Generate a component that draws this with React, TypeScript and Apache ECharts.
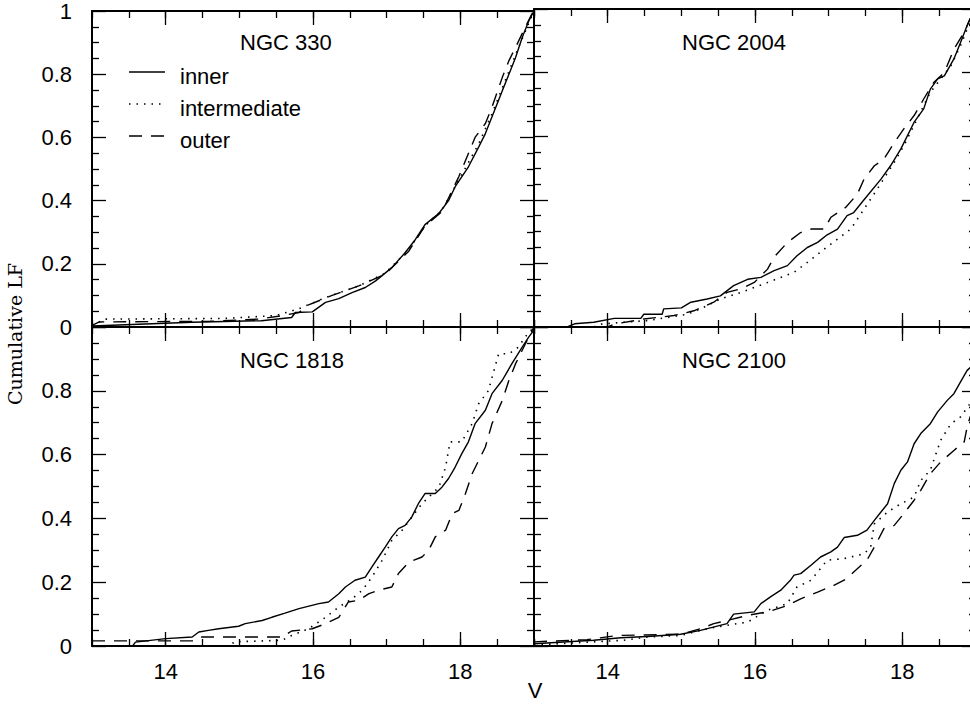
import React, { useEffect, useRef } from 'react';
import * as echarts from 'echarts';

// ---- data: [V magnitude, cumulative fraction] ----
const ngc330Inner = [[13.0,0.003],[14.36,0.015],[15.3,0.02],[15.71,0.03],[15.76,0.046],[15.99,0.048],[16.17,0.078],[16.35,0.09],[16.53,0.109],[16.71,0.125],[16.85,0.146],[17.07,0.188],[17.25,0.235],[17.39,0.277],[17.52,0.324],[17.71,0.36],[17.84,0.40],[17.93,0.444],[18.11,0.507],[18.25,0.57],[18.34,0.612],[18.43,0.665],[18.57,0.748],[18.66,0.80],[18.75,0.853],[18.84,0.916],[18.93,0.969],[19.0,1.0]];
const ngc330Inter = [[13.0,0.005],[13.18,0.025],[14.8,0.027],[15.49,0.036],[15.8,0.057],[16.17,0.093],[16.62,0.13],[16.98,0.17],[17.3,0.245],[17.52,0.32],[17.75,0.37],[17.98,0.465],[18.25,0.58],[18.43,0.675],[18.61,0.78],[18.79,0.885],[18.97,0.984],[19.0,1.0]];
const ngc330Outer = [[13.0,0.005],[13.1,0.016],[14.6,0.018],[15.26,0.025],[15.58,0.036],[15.81,0.046],[15.94,0.07],[16.26,0.10],[16.62,0.13],[16.98,0.167],[17.3,0.24],[17.52,0.32],[17.75,0.365],[17.98,0.476],[18.2,0.60],[18.34,0.644],[18.43,0.696],[18.57,0.79],[18.66,0.843],[18.75,0.885],[18.88,0.948],[18.97,0.99],[19.0,1.0]];

const ngc2004Inner = [[13.0,0],[13.45,0],[13.55,0.01],[13.81,0.015],[14.09,0.027],[14.45,0.027],[14.49,0.04],[14.74,0.04],[14.76,0.057],[15.0,0.06],[15.13,0.078],[15.35,0.088],[15.53,0.098],[15.71,0.13],[15.9,0.15],[16.08,0.156],[16.26,0.177],[16.44,0.193],[16.57,0.224],[16.71,0.25],[16.85,0.266],[16.98,0.29],[17.12,0.308],[17.25,0.35],[17.34,0.36],[17.48,0.40],[17.71,0.465],[17.84,0.507],[17.98,0.56],[18.16,0.644],[18.29,0.686],[18.38,0.748],[18.48,0.78],[18.57,0.79],[18.7,0.843],[18.79,0.895],[18.88,0.948],[18.92,0.969],[19.0,1.0]];
const ngc2004Inter = [[13.0,0],[13.81,0],[13.9,0.009],[14.22,0.015],[14.54,0.02],[14.81,0.03],[15.08,0.04],[15.26,0.057],[15.53,0.088],[15.81,0.109],[16.17,0.14],[16.53,0.172],[16.71,0.203],[16.94,0.245],[17.3,0.308],[17.48,0.371],[17.66,0.434],[17.89,0.518],[18.02,0.57],[18.2,0.654],[18.38,0.738],[18.52,0.78],[18.66,0.822],[18.79,0.885],[18.88,0.937],[19.0,0.99]];
const ngc2004Outer = [[13.0,0],[14.0,0],[14.09,0.009],[14.49,0.025],[14.9,0.036],[15.17,0.051],[15.44,0.078],[15.62,0.109],[15.81,0.12],[15.99,0.14],[16.17,0.182],[16.26,0.22],[16.44,0.266],[16.62,0.297],[16.76,0.308],[16.94,0.308],[17.03,0.345],[17.23,0.376],[17.39,0.418],[17.48,0.465],[17.62,0.507],[17.75,0.528],[17.89,0.58],[18.02,0.623],[18.16,0.665],[18.29,0.717],[18.43,0.77],[18.57,0.80],[18.7,0.874],[18.84,0.927],[18.92,0.969],[19.0,1.0]];

const ngc1818Inner = [[13.0,0],[13.55,0],[13.59,0.012],[14.0,0.023],[14.36,0.028],[14.45,0.044],[14.58,0.049],[14.72,0.054],[14.99,0.062],[15.08,0.07],[15.31,0.08],[15.44,0.09],[15.62,0.103],[15.81,0.117],[16.08,0.133],[16.21,0.138],[16.35,0.164],[16.44,0.185],[16.57,0.206],[16.71,0.216],[16.8,0.248],[16.89,0.279],[16.98,0.31],[17.07,0.342],[17.16,0.368],[17.25,0.378],[17.34,0.404],[17.43,0.446],[17.52,0.478],[17.66,0.478],[17.75,0.498],[17.84,0.525],[17.93,0.561],[18.02,0.603],[18.11,0.64],[18.2,0.697],[18.34,0.739],[18.43,0.791],[18.57,0.833],[18.7,0.885],[18.84,0.937],[18.93,0.969],[19.0,0.99]];
const ngc1818Inter = [[13.0,0],[14.9,0],[14.92,0.013],[15.58,0.018],[15.71,0.033],[15.94,0.054],[16.17,0.09],[16.35,0.122],[16.53,0.148],[16.67,0.175],[16.8,0.216],[16.94,0.269],[17.07,0.331],[17.21,0.363],[17.34,0.404],[17.48,0.446],[17.62,0.478],[17.71,0.498],[17.8,0.561],[17.86,0.64],[18.02,0.64],[18.16,0.697],[18.25,0.76],[18.38,0.80],[18.52,0.916],[18.66,0.916],[18.79,0.937],[18.88,0.969],[19.0,1.0]];
const ngc1818Outer = [[13.0,0.016],[14.4,0.016],[14.49,0.028],[15.58,0.028],[15.71,0.047],[15.99,0.054],[16.17,0.07],[16.35,0.09],[16.48,0.138],[16.62,0.143],[16.76,0.164],[16.89,0.175],[17.07,0.185],[17.16,0.227],[17.3,0.263],[17.48,0.279],[17.57,0.30],[17.66,0.342],[17.8,0.363],[17.89,0.415],[17.98,0.425],[18.07,0.478],[18.16,0.54],[18.25,0.582],[18.34,0.624],[18.43,0.697],[18.57,0.77],[18.66,0.833],[18.75,0.885],[18.84,0.927],[18.93,0.969],[19.0,1.0]];

const ngc2100Inner = [[13.0,0.007],[13.81,0.018],[14.18,0.026],[14.54,0.03],[14.99,0.037],[15.26,0.049],[15.62,0.07],[15.71,0.10],[15.99,0.107],[16.08,0.133],[16.21,0.154],[16.35,0.175],[16.48,0.206],[16.53,0.222],[16.62,0.227],[16.76,0.253],[16.89,0.279],[17.03,0.295],[17.12,0.31],[17.21,0.34],[17.39,0.347],[17.52,0.363],[17.62,0.394],[17.71,0.42],[17.8,0.446],[17.89,0.509],[17.98,0.551],[18.07,0.577],[18.16,0.634],[18.25,0.666],[18.38,0.697],[18.48,0.734],[18.61,0.77],[18.7,0.791],[18.79,0.828],[18.88,0.864],[19.0,0.89]];
const ngc2100Inter = [[13.0,0.003],[14.22,0.018],[14.54,0.028],[14.99,0.033],[15.35,0.054],[15.62,0.065],[15.9,0.075],[16.17,0.112],[16.44,0.133],[16.57,0.185],[16.76,0.206],[16.98,0.269],[17.21,0.274],[17.48,0.289],[17.57,0.31],[17.62,0.383],[17.8,0.42],[17.98,0.446],[18.16,0.467],[18.25,0.519],[18.38,0.551],[18.52,0.645],[18.66,0.697],[18.79,0.718],[18.92,0.76],[19.0,0.78]];
const ngc2100Outer = [[13.0,0.013],[13.72,0.02],[14.13,0.033],[14.99,0.037],[15.26,0.054],[15.44,0.07],[15.62,0.08],[15.9,0.096],[16.17,0.107],[16.44,0.127],[16.62,0.148],[16.85,0.169],[17.07,0.19],[17.25,0.211],[17.34,0.232],[17.52,0.269],[17.62,0.31],[17.75,0.368],[17.89,0.378],[18.02,0.415],[18.16,0.457],[18.25,0.488],[18.38,0.54],[18.52,0.577],[18.7,0.613],[18.84,0.64],[18.88,0.687],[18.92,0.718],[19.0,0.75]];

const panelTitles = ['NGC 330', 'NGC 2004', 'NGC 1818', 'NGC 2100'];
const panelCurves = [
  [ngc330Inner, ngc330Inter, ngc330Outer],
  [ngc2004Inner, ngc2004Inter, ngc2004Outer],
  [ngc1818Inner, ngc1818Inter, ngc1818Outer],
  [ngc2100Inner, ngc2100Inter, ngc2100Outer],
];
const legendNames = ['inner', 'intermediate', 'outer'];
const xMajorTicks = [14, 16, 18];

const FONT = '"Liberation Sans", Arial, Helvetica, sans-serif';
const BLACK = '#000';
const lineTypes: any[] = ['solid', [1.5, 6], [13, 9]];
const lineWidths = [1.4, 1.6, 1.4];

// layout
const GRIDS = [
  { left: 92, top: 9, width: 442, height: 318 },
  { left: 534, top: 9, width: 442, height: 318 },
  { left: 92, top: 327, width: 442, height: 319 },
  { left: 534, top: 327, width: 442, height: 319 },
];

function buildOption() {
  const xAxis: any[] = [];
  const yAxis: any[] = [];
  const series: any[] = [];
  GRIDS.forEach((_, g) => {
    const base = { gridIndex: g, type: 'value', min: 13, max: 19, splitLine: { show: false } };
    for (const pos of ['bottom', 'top']) {
      xAxis.push({
        ...base,
        position: pos,
        axisLine: { show: true, onZero: false, lineStyle: { color: BLACK, width: 2 } },
        axisTick: { show: true, inside: true, length: 14, customValues: xMajorTicks, lineStyle: { color: BLACK, width: 1.3 } },
        axisLabel: {
          show: pos === 'bottom' && g >= 2,
          customValues: xMajorTicks,
          fontSize: 22, color: BLACK, fontFamily: FONT, margin: 14,
        },
      });
      xAxis.push({
        ...base,
        position: pos,
        interval: 0.5,
        axisLine: { show: false, onZero: false },
        axisTick: { show: true, inside: true, length: 7, lineStyle: { color: BLACK, width: 1.3 } },
        axisLabel: { show: false },
      });
    }
    for (const pos of ['left', 'right']) {
      yAxis.push({
        gridIndex: g, type: 'value', min: 0, max: 1, interval: 0.2, position: pos,
        splitLine: { show: false },
        axisLine: { show: true, onZero: false, lineStyle: { color: BLACK, width: 2 } },
        axisTick: { show: true, inside: true, length: 14, lineStyle: { color: BLACK, width: 1.3 } },
        minorTick: { show: true, splitNumber: 4, length: 7, lineStyle: { color: BLACK, width: 1.3 } },
        axisLabel: {
          show: pos === 'left' && g % 2 === 0,
          showMaxLabel: g === 0,
          fontSize: 22, color: BLACK, fontFamily: FONT, margin: 20,
          padding: [8, 0, 0, 0],
        },
      });
    }
    panelCurves[g].forEach((curve, k) => {
      series.push({
        type: 'line',
        name: legendNames[k],
        xAxisIndex: g * 4,
        yAxisIndex: g * 2,
        data: curve,
        showSymbol: false,
        symbol: 'none',
        silent: true,
        lineStyle: { color: BLACK, width: lineWidths[k], type: lineTypes[k] },
      });
    });
  });

  const graphic: any[] = [];
  const titlePos = [[240, 42.5], [682, 42.5], [240, 360], [682, 360]];
  panelTitles.forEach((t, i) => {
    graphic.push({
      type: 'text', x: titlePos[i][0], y: titlePos[i][1],
      style: { text: t, fill: BLACK, font: `22px ${FONT}`, textAlign: 'left', textVerticalAlign: 'middle', verticalAlign: 'middle' },
    });
  });
  const legY = [72, 104, 136];
  legendNames.forEach((n, k) => {
    graphic.push({
      type: 'line', shape: { x1: 129, y1: legY[k], x2: 165, y2: legY[k] },
      style: { stroke: BLACK, lineWidth: lineWidths[k], lineDash: k === 0 ? null : lineTypes[k] },
    });
    graphic.push({
      type: 'text', x: 180, y: legY[k] + 4.5,
      style: { text: n, fill: BLACK, font: `22px ${FONT}`, textAlign: 'left', verticalAlign: 'middle', textVerticalAlign: 'middle' },
    });
  });
  graphic.push({
    type: 'text', x: 535, y: 690,
    style: { text: 'V', fill: BLACK, font: `22px ${FONT}`, textAlign: 'center', verticalAlign: 'middle', textVerticalAlign: 'middle' },
  });
  graphic.push({
    type: 'text', x: 15, y: 334, rotation: Math.PI / 2,
    style: { text: 'Cumulative LF', fill: BLACK, font: `19px "DejaVu Serif", serif`, textAlign: 'center', verticalAlign: 'middle', textVerticalAlign: 'middle' },
  });

  return {
    animation: false,
    backgroundColor: '#fff',
    grid: GRIDS.map((g) => ({ ...g, containLabel: false })),
    xAxis,
    yAxis,
    series,
    graphic,
  };
}

export default function App() {
  const ref = useRef<HTMLDivElement>(null);
  useEffect(() => {
    if (!ref.current) return;
    const chart = echarts.init(ref.current, null, { renderer: 'svg' });
    chart.setOption(buildOption() as any);
    return () => chart.dispose();
  }, []);
  return (
    <div style={{ position: 'fixed', left: 0, top: 0, width: 970, height: 717, overflow: 'hidden', background: '#fff' }}>
      <div ref={ref} style={{ width: 990, height: 717 }} />
    </div>
  );
}
